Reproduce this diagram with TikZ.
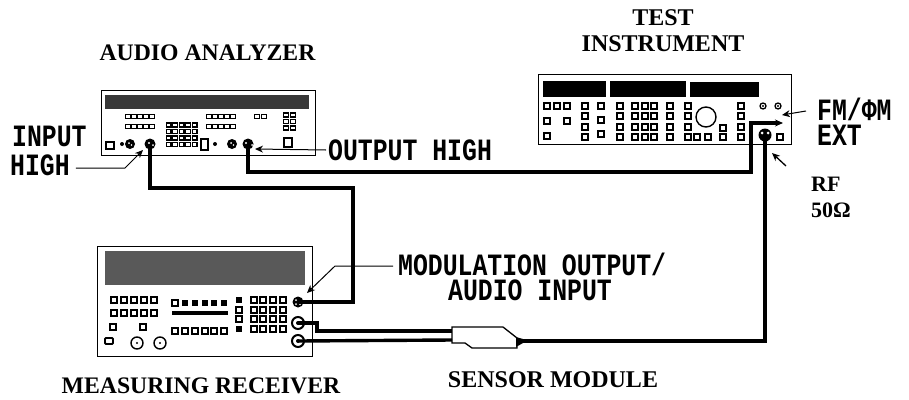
\documentclass[tikz,border=0pt]{standalone}
\usepackage{fontspec}
\setmainfont{Liberation Serif}
\newfontfamily\pixfont[FakeStretch=.8]{Liberation Mono}
\usetikzlibrary{arrows.meta}
\tikzset{
 device/.style={draw=black,line width=1.3pt,fill=white,inner sep=0pt,anchor=north west},
 title/.style={font=\fontsize{23.7}{25}\selectfont\bfseries,inner sep=0pt,anchor=base,align=center},
 pix/.style={font=\fontsize{31}{33}\selectfont\pixfont\bfseries,inner sep=0pt,anchor=base west,text height=18pt,text depth=0pt},
 cable/.style={line width=3.4pt,line join=miter,black},
 leader/.style={line width=1pt,black},
 tip/.style={-{Stealth[length=8pt,width=7pt]}},
 keyline/.style={draw=black,line width=1.8pt,fill=white},
 knob/.style={circle,draw=black,line width=2pt,fill=white,inner sep=0pt},
 bigknob/.style={circle,draw=black,line width=1.4pt,fill=white,inner sep=0pt},
}
\newcommand{\keyAt}[2]{\draw[keyline] (#1-2.7,#2-2.7) rectangle (#1+2.7,#2+2.7);}
\newcommand{\smallKey}[2]{\draw[keyline,line width=1.2pt] (#1-2.4,#2-2) rectangle (#1+2.4,#2+2);}
\newcommand{\blackKey}[2]{\fill[black] (#1-3.2,#2-3.2) rectangle (#1+3.2,#2+3.2);}
\newcommand{\ringKnob}[3]{\draw[black,line width=1.3pt,fill=white] (#1,#2) circle (#3); \fill[black] (#1,#2) circle (1.2);}
\newcommand{\darkKnob}[3]{\fill[black] (#1,#2) circle (#3); \fill[white] (#1-1,#2-1) circle (1); \fill[white] (#1+1.5,#2+1) circle (.8);}
\begin{document}
\begin{tikzpicture}[x=1pt,y=-1pt]
\useasboundingbox (0,0) rectangle (909,399);
% ---------- AUDIO ANALYZER
\node[device,minimum width=214pt,minimum height=65pt] (aa) at (101,90) {};
\fill[black!78] (105,95) rectangle (309,109);
\foreach \bx in {125,206}{
 \foreach \i in {0,1,2,3,4}{
  \smallKey{\bx+3+\i*6}{116.5}
  \smallKey{\bx+3+\i*6}{126.5}
 }}
\smallKey{257}{116.5}\smallKey{264}{116.5}
\foreach \r in {0,1,2}{\smallKey{286}{115+\r*6.5}\smallKey{293}{115+\r*6.5}}
\foreach \r in {0,1,2,3}{\foreach \c in {0,1,2,3,4}{\smallKey{168.5+\c*6.5}{125+\r*6.5}}}
\draw[keyline,line width=1.3pt] (106,142) rectangle (114,149);
\draw[keyline,line width=1.3pt] (201,139) rectangle (208,150);
\draw[keyline,line width=1.3pt] (284,138) rectangle (292,147);
\fill[black] (122,144) circle (2); \fill[black] (215,144) circle (2);
\darkKnob{130}{144}{5}
\darkKnob{232}{144}{5}
\node[circle,fill=black,minimum size=11pt,inner sep=0pt] (inhigh) at (150,144) {};
\node[circle,fill=black,minimum size=11pt,inner sep=0pt] (outhigh) at (248,144) {};
\fill[white] (149,143) circle (1.2) (252,145) circle (1) (246,143) circle (1.2) (153,145) circle (1);
% ---------- TEST INSTRUMENT
\node[device,minimum width=253pt,minimum height=70pt] (ti) at (538,74) {};
\fill[black] (543,81) rectangle (606,97);
\fill[black] (610,81) rectangle (686,97);
\fill[black] (690,82) rectangle (759,97);
\foreach \p in {547,557,567,585,601,620,635,645,654,670,688}{\keyAt{\p}{106}}
\foreach \p in {585,620,635,645,654,670,688}{\keyAt{\p}{116}}
\foreach \p in {585,620,635,645,654,670,688}{\keyAt{\p}{127}}
\foreach \p in {585,620,635,645,654,670,688,697,708,723}{\keyAt{\p}{137}}
\keyAt{547}{121}\keyAt{567}{121}\keyAt{601}{120}\keyAt{601}{134}\keyAt{547}{136}\keyAt{723}{128}
\foreach \q in {106,116,127,137}{\keyAt{741}{\q}}
\keyAt{780}{137}
\node[bigknob,minimum size=20pt] (tuner) at (706,117) {};
\ringKnob{763}{106}{3}
\ringKnob{778}{106}{3}
\node[circle,fill=black,minimum size=13pt,inner sep=0pt] (rf) at (765,135) {};
\fill[white] (762,133) circle (1.5) (768,133) circle (1.5);
\coordinate (fmext) at (783,123);
% ---------- MEASURING RECEIVER
\node[device,minimum width=215pt,minimum height=110pt] (mr) at (97,246) {};
\fill[black!65] (105,251) rectangle (305,285);
\foreach \p in {114,124,134,144,154}{\keyAt{\p}{300}\keyAt{\p}{313}}
\keyAt{113}{327}\keyAt{143}{327}
\draw[keyline,rounded corners=1pt] (105,338) rectangle (113,344);
\node[bigknob,minimum size=12pt] (dial1) at (137,343) {};
\node[bigknob,minimum size=12pt] (dial2) at (160,343) {};
\fill[black] (137,343) circle (1.2) (160,343) circle (1.2);
\keyAt{175}{303}
\foreach \p in {185,195,205,214,224}{\blackKey{\p}{303}}
\fill[black] (172,311) rectangle (228,315);
\foreach \p in {175,185,195,205,214,224}{\keyAt{\p}{331}}
\blackKey{239}{300}\keyAt{239}{310}\keyAt{239}{319}\blackKey{239}{329}
\foreach \p in {254,263,273,283}{\foreach \q in {300,310,319,329}{\keyAt{\p}{\q}}}
\node[circle,fill=black,minimum size=11pt,inner sep=0pt] (modout) at (298,302) {};
\fill[white] (296,300) circle (1) (300,304) circle (1) (296,304) circle (1);
\node[knob,minimum size=12pt] (port1) at (298,323) {};
\node[knob,minimum size=12pt] (port2) at (298,341) {};
\fill[black] (298,323) circle (2) (298,341) circle (2);
% ---------- SENSOR MODULE
\coordinate (smA) at (452,331);
\coordinate (smB) at (452,340);
\coordinate (smC) at (520,341);
\draw[black,line width=1.3pt,fill=white] (452,327) -- (503,327) -- (517,338) -- (517,348) -- (472,348) -- (465,343) -- (452,343) -- cycle;
\fill[black] (516,337) -- (523,339) -- (523,343) -- (516,347) -- cycle;
% ---------- cables
\draw[cable] (inhigh.center) -- (150,188) -- (353,188) -- (353,302) -- (modout.center);
\draw[cable,tip] (outhigh.center) |- (751,172) -- (751,123) -- (fmext);
\draw[cable] (port1.center) -- (317,323) -- (317,331) -- (smA);
\draw[cable] (port2.center) -- (smB);
\draw[cable] (smC) -- (765,341) -- (rf.center);
% ---------- labels
\node[title] (tAudio) at (207.5,60) {AUDIO ANALYZER};
\node[title,font=\fontsize{24}{26}\selectfont\bfseries] (tTest) at (663,25) {TEST};
\node[title,font=\fontsize{24}{26}\selectfont\bfseries] (tInst) at (663,51) {INSTRUMENT};
\node[title] (tMeas) at (201,393.5) {MEASURING RECEIVER};
\node[title,font=\fontsize{24}{26}\selectfont\bfseries] (tSens) at (553,387) {SENSOR MODULE};
\node[title,anchor=base west,font=\fontsize{22}{24}\selectfont\bfseries] (tRF) at (811,191) {RF};
\node[title,anchor=base west,font=\fontsize{22}{24}\selectfont\bfseries] (tOhm) at (811,217) {50Ω};
\node[pix] (lInput) at (12,146) {INPUT};
\node[pix] (lHigh) at (10,175) {HIGH};
\node[pix] (lOut) at (328,160) {OUTPUT HIGH};
\node[pix] (lMod) at (398,275) {MODULATION OUTPUT/};
\node[pix,anchor=base] (lAud) at (530,300) {AUDIO INPUT};
\node[pix] (lFM) at (817,120) {FM/ΦM};
\node[pix] (lExt) at (817,145) {EXT};
% ---------- leaders
\coordinate (rfTail) at (786,166);
\coordinate (rfTip) at (772,153);
\draw[leader,tip] (lHigh.east |- 0,168) ++(6,0) -- (125,168) -- (143,150);
\draw[leader,tip] (326,150) -- (255,149);
\draw[leader,tip] (lMod.west |- 0,266) ++(-5,0) -- (335,266) -- (307,293);
\draw[leader,tip] (lFM.west |- 0,111) ++(-11,0) -- (782,115);
\draw[leader,line width=1.3pt,tip] (rfTail) -- (rfTip);
\end{tikzpicture}
\end{document}
